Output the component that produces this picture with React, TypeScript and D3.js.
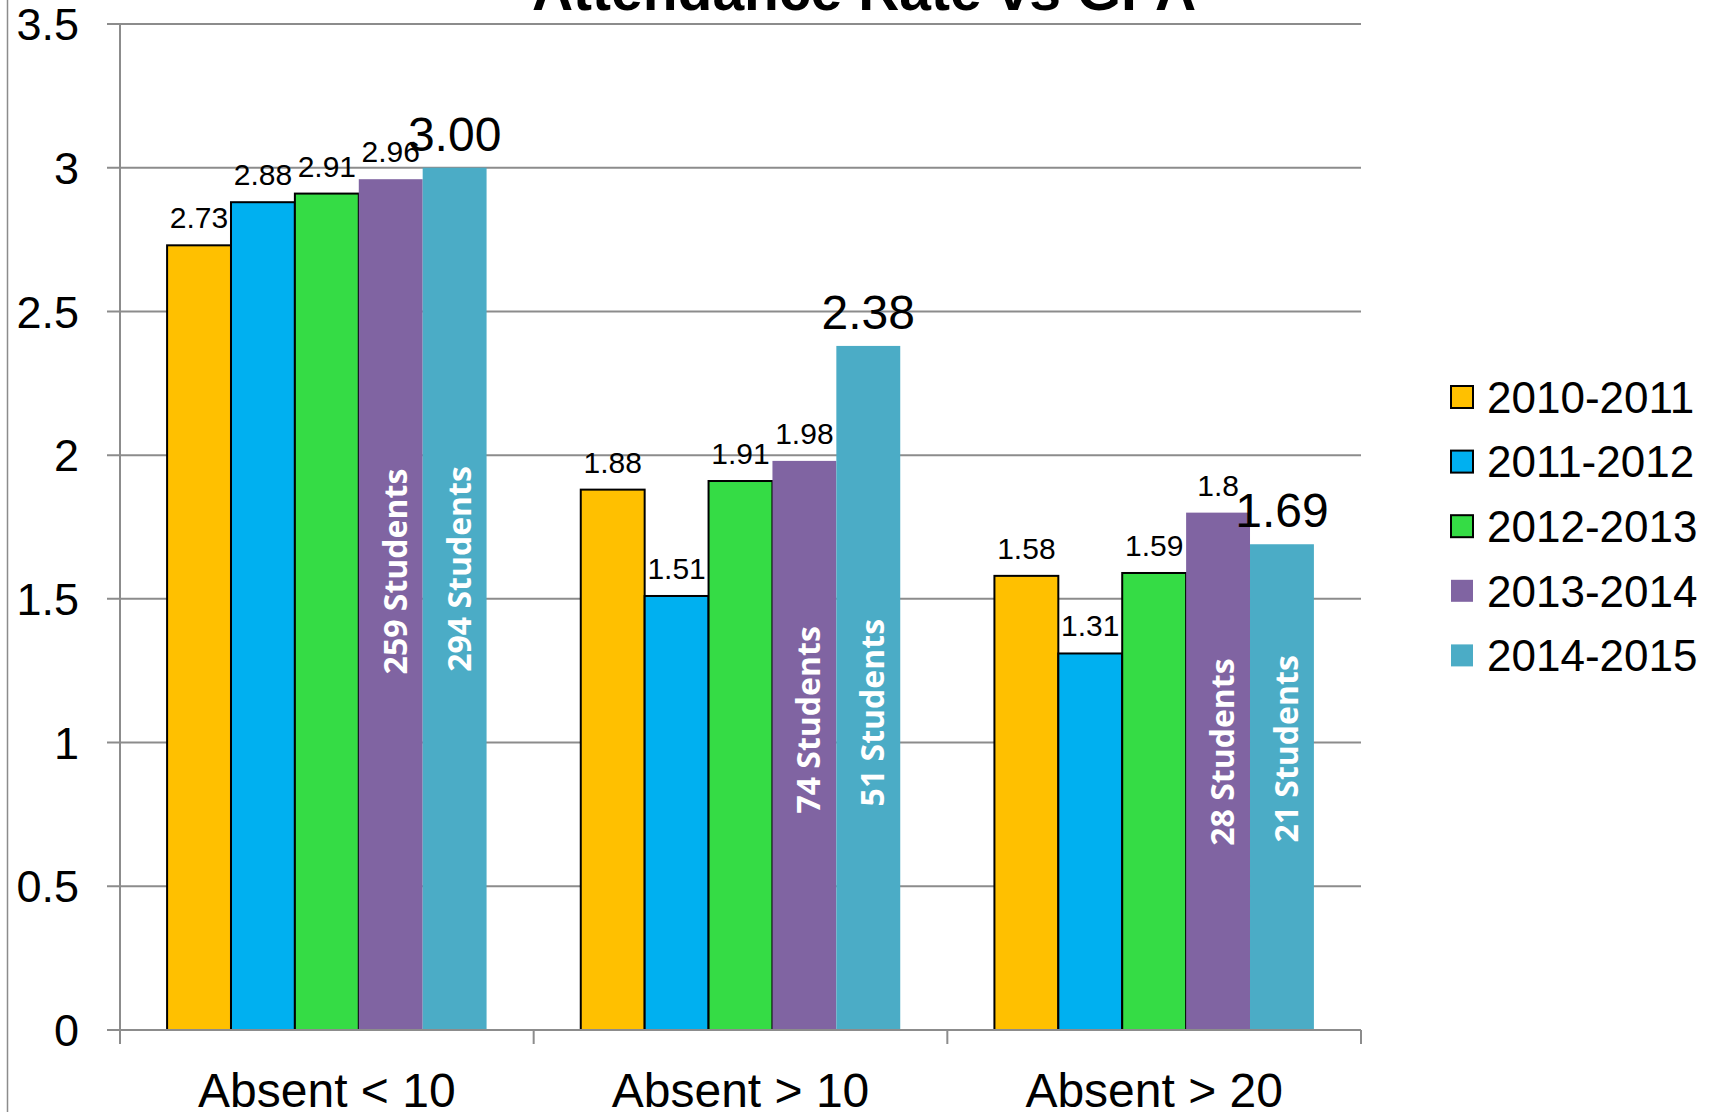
import React from "react";
import * as d3 from "d3";

const categories = ["Absent < 10", "Absent > 10", "Absent > 20"];
const seriesNames = ["2010-2011", "2011-2012", "2012-2013", "2013-2014", "2014-2015"];
const seriesColors = ["#FFC000", "#00B0F0", "#35DC45", "#8064A2", "#4BACC6"];
const seriesOutlined = [true, true, true, false, false];
const values2010 = [2.73, 1.88, 1.58];
const values2011 = [2.88, 1.51, 1.31];
const values2012 = [2.91, 1.91, 1.59];
const values2013 = [2.96, 1.98, 1.8];
const values2014 = [3.0, 2.38, 1.69];
const labels2010 = ["2.73", "1.88", "1.58"];
const labels2011 = ["2.88", "1.51", "1.31"];
const labels2012 = ["2.91", "1.91", "1.59"];
const labels2013 = ["2.96", "1.98", "1.8"];
const labels2014 = ["3.00", "2.38", "1.69"];
const students2013 = ["259 Students", "74 Students", "28 Students"];
const students2014 = ["294 Students", "51 Students", "21 Students"];
const students2013At = [1.595, 1.079, 0.967];
const students2014At = [1.604, 1.104, 0.978];
const yTicks = [0, 0.5, 1, 1.5, 2, 2.5, 3, 3.5];
const yTickLabels = ["0", "0.5", "1", "1.5", "2", "2.5", "3", "3.5"];

const allValues = [values2010, values2011, values2012, values2013, values2014];
const allLabels = [labels2010, labels2011, labels2012, labels2013, labels2014];

export default function App() {
  const W = 1715, H = 1112;
  const left = 120, right = 1361, top = 24, bottom = 1030;
  const x0 = d3.scaleBand<string>().domain(categories).range([left, right]).padding(0);
  const x1 = d3.scaleBand<string>().domain(seriesNames).range([0, x0.bandwidth()]).paddingInner(0).paddingOuter(0.737);
  const y = d3.scaleLinear().domain([0, 3.5]).range([bottom, top]);
  const font = "'Liberation Sans', Arial, sans-serif";
  const grid = "#8c8c8c";

  return (
    <svg width={W} height={H} style={{ position: "absolute", left: 0, top: 0, background: "#fff" }}>
      <rect x={0} y={0} width={W} height={H} fill="#fff" />
      <line x1={7.5} x2={7.5} y1={0} y2={H} stroke={grid} strokeWidth={1.5} />
      <text x={864} y={10} textAnchor="middle" fontFamily={font} fontWeight="bold" fontSize={57}>Attendance Rate vs GPA</text>
      {yTicks.map((t, i) => (
        <g key={"g" + i}>
          <line x1={107} x2={right} y1={y(t)} y2={y(t)} stroke={grid} strokeWidth={2} />
          <text x={79} y={y(t)} dy="0.36em" textAnchor="end" fontFamily={font} fontSize={45}>{yTickLabels[i]}</text>
        </g>
      ))}
      <line x1={left} x2={left} y1={top} y2={bottom + 14} stroke={grid} strokeWidth={2} />
      {[...categories.map((c) => x0(c) as number), right].map((xx, i) => (
        <line key={"t" + i} x1={xx} x2={xx} y1={bottom} y2={bottom + 14} stroke={grid} strokeWidth={2} />
      ))}
      {categories.map((c, ci) => (
        <g key={c}>
          {seriesNames.map((s, si) => {
            const bx = (x0(c) as number) + (x1(s) as number);
            const v = allValues[si][ci];
            return (
              <rect key={s} x={bx} y={y(v)} width={x1.bandwidth()} height={y(0) - y(v)} fill={seriesColors[si]}
                stroke={seriesOutlined[si] ? "#000" : "none"} strokeWidth={2} />
            );
          })}
          {seriesNames.map((s, si) => {
            const cx = (x0(c) as number) + (x1(s) as number) + x1.bandwidth() / 2;
            const v = allValues[si][ci];
            const big = si === 4;
            return (
              <text key={"l" + s} x={cx} y={y(v) - 17} textAnchor="middle" fontFamily={font} fontSize={big ? 48 : 30}>{allLabels[si][ci]}</text>
            );
          })}
          {[3, 4].map((si) => {
            const s = seriesNames[si];
            const cx = (x0(c) as number) + (x1(s) as number) + x1.bandwidth() / 2 + 16;
            const at = si === 3 ? students2013At[ci] : students2014At[ci];
            const txt = si === 3 ? students2013[ci] : students2014[ci];
            const cy = y(at);
            return (
              <text key={"s" + si} transform={`translate(${cx},${cy}) rotate(-90)`} textAnchor="middle"
                fontFamily="'Open Sans', sans-serif" fontWeight="bold" fontSize={32} fill="#fff">{txt}</text>
            );
          })}
          <text x={(x0(c) as number) + x0.bandwidth() / 2} y={1107} textAnchor="middle" fontFamily={font} fontSize={48}>{c}</text>
        </g>
      ))}
      <line x1={107} x2={right} y1={bottom} y2={bottom} stroke={grid} strokeWidth={2} />
      {seriesNames.map((s, si) => {
        const cy = 397 + si * 64.6;
        return (
          <g key={"lg" + s}>
            <rect x={1451} y={cy - 11} width={22} height={22} fill={seriesColors[si]}
              stroke={seriesOutlined[si] ? "#000" : "none"} strokeWidth={2} />
            <text x={1487} y={cy} dy="0.36em" fontFamily={font} fontSize={44}>{s}</text>
          </g>
        );
      })}
    </svg>
  );
}
